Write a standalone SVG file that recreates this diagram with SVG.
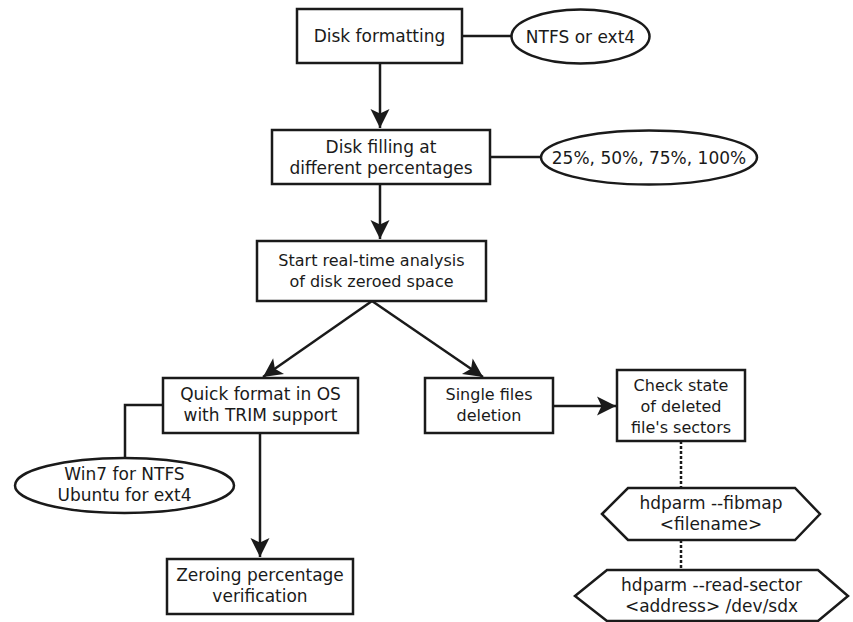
<svg xmlns="http://www.w3.org/2000/svg" width="853" height="622" viewBox="0 0 853 622">
<style>
.box{fill:#fff;stroke:#1a1a1a;stroke-width:2.5}
.ln{fill:none;stroke:#1a1a1a;stroke-width:2.5}
.dot{fill:none;stroke:#1a1a1a;stroke-width:2.5;stroke-dasharray:3 2}
text{font-family:"DejaVu Sans",sans-serif;font-size:17px;fill:#1a1a1a;text-anchor:middle}
.s16{font-size:16px}
</style>
<defs>
<marker id="arr" markerUnits="userSpaceOnUse" markerWidth="24" markerHeight="24" viewBox="-22 -12 24 24" refX="0" refY="0" orient="auto">
<path d="M0,0 L-19,-9.5 L-14.5,0 L-19,9.5 Z" fill="#1a1a1a"/>
</marker>
</defs>
<rect width="853" height="622" fill="#fff"/>
<g id="connectors">
<line class="ln" x1="462" y1="36" x2="511" y2="36"/>
<line class="ln" x1="380" y1="63" x2="380" y2="128" marker-end="url(#arr)"/>
<line class="ln" x1="490" y1="157" x2="541" y2="157"/>
<line class="ln" x1="380" y1="184" x2="380" y2="239" marker-end="url(#arr)"/>
<line class="ln" x1="372" y1="301" x2="263" y2="377" marker-end="url(#arr)"/>
<line class="ln" x1="372" y1="301" x2="483" y2="377" marker-end="url(#arr)"/>
<line class="ln" x1="553" y1="406" x2="616" y2="406" marker-end="url(#arr)"/>
<polyline class="ln" points="163,405 125,405 125,458"/>
<line class="ln" x1="260" y1="433" x2="260" y2="557" marker-end="url(#arr)"/>
<line class="dot" x1="681" y1="441" x2="681" y2="488"/>
<line class="dot" x1="681" y1="540" x2="681" y2="570"/>
</g>
<g id="disk-formatting">
<rect class="box" x="297" y="9" width="165" height="54"/>
<text x="379.5" y="42">Disk formatting</text>
</g>
<g id="ntfs-ext4">
<ellipse class="box" cx="580.5" cy="36.5" rx="69" ry="27"/>
<text x="580.5" y="42.5">NTFS or ext4</text>
</g>
<g id="disk-filling">
<rect class="box" x="272" y="130" width="218" height="54"/>
<text x="381" y="152.5">Disk filling at</text>
<text x="381" y="173.5">different percentages</text>
</g>
<g id="percentages">
<ellipse class="box" cx="649" cy="157.5" rx="108" ry="27"/>
<text x="649" y="163.5">25%, 50%, 75%, 100%</text>
</g>
<g id="start-analysis">
<rect class="box" x="257" y="241" width="229" height="60"/>
<text class="s16" x="371.5" y="266">Start real-time analysis</text>
<text class="s16" x="371.5" y="287">of disk zeroed space</text>
</g>
<g id="quick-format">
<rect class="box" x="163" y="378" width="195" height="55"/>
<text x="260.5" y="400">Quick format in OS</text>
<text x="260.5" y="421">with TRIM support</text>
</g>
<g id="os-choice">
<ellipse class="box" cx="124.5" cy="485.5" rx="109.5" ry="27.5"/>
<text x="124.5" y="480">Win7 for NTFS</text>
<text x="124.5" y="501">Ubuntu for ext4</text>
</g>
<g id="single-deletion">
<rect class="box" x="425" y="378" width="128" height="55"/>
<text class="s16" x="489" y="400">Single files</text>
<text class="s16" x="489" y="421">deletion</text>
</g>
<g id="check-state">
<rect class="box" x="617" y="370" width="128" height="71"/>
<text class="s16" x="681" y="390.5">Check state</text>
<text class="s16" x="681" y="411.5">of deleted</text>
<text class="s16" x="681" y="432.5">file's sectors</text>
</g>
<g id="zeroing-verification">
<rect class="box" x="167" y="559" width="186" height="55"/>
<text x="260" y="581">Zeroing percentage</text>
<text x="260" y="602">verification</text>
</g>
<g id="fibmap">
<polygon class="box" points="602,514 628,488 795,488 820,514 795,540 628,540"/>
<text x="711" y="509">hdparm --fibmap</text>
<text x="711" y="530">&lt;filename&gt;</text>
</g>
<g id="read-sector">
<polygon class="box" points="575,596 607,570 818,570 848,596 818,621 607,621"/>
<text x="711.5" y="591">hdparm --read-sector</text>
<text x="711.5" y="612">&lt;address&gt; /dev/sdx</text>
</g>
</svg>
